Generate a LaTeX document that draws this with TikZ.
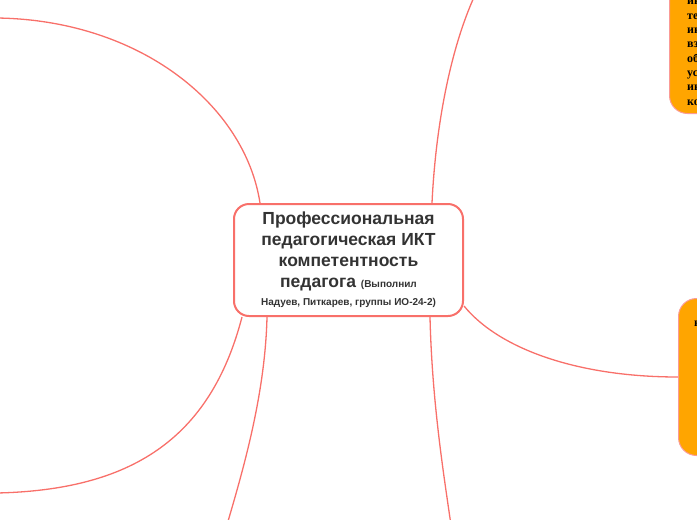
\documentclass[tikz,border=0pt]{standalone}
\usepackage{fontspec}
\setmainfont{Liberation Sans}
\newfontfamily\boxfont{Liberation Serif}
\usetikzlibrary{positioning,backgrounds}
\definecolor{branchred}{HTML}{F8706A}
\definecolor{nodeorange}{HTML}{FFA500}
\definecolor{textgray}{HTML}{333333}

\begin{document}
\begin{tikzpicture}[x=1pt, y=-1pt,
    topic/.style={draw=branchred, line width=2pt, rounded corners=15pt, fill=white,
        minimum width=229pt, minimum height=112pt, inner sep=0pt, align=center,
        text=textgray, font=\bfseries\fontsize{17.5}{21}\selectfont},
    subtopic/.style={draw=branchred!70, line width=1pt, fill=nodeorange, rounded corners=18pt},
    subtext/.style={font=\boxfont\bfseries\fontsize{12}{14.3}\selectfont, align=left, inner sep=0pt},
    branch/.style={draw=branchred, line width=1.3pt}]
    \useasboundingbox (0,0) rectangle (697,520);
    \clip (0,0) rectangle (697,520);
    % central topic
    \node (topic) at (348.5,260) [topic] {Профессиональная\\педагогическая ИКТ\\компетентность\\педагога {\fontsize{10}{12}\selectfont (Выполнил}\\[-3pt]{\fontsize{10}{12}\selectfont Надуев, Питкарев, группы ИО-24-2)}};

    % subtopics on the right, cut by the page edge
    \node (itbox) at (669,114) [subtopic, minimum width=120pt, minimum height=170pt, anchor=south west] {};
    \node (ittext) at (687,105) [subtext, anchor=base west] {информационных\\технологий\\информационного\\взаимодействия\\образовательного\\условиях\\информационной\\коммуникационной};
    \node (skillbox) at (678,298) [subtopic, minimum width=120pt, minimum height=157pt, anchor=north west] {};
    \node (skilltext) at (694,326) [subtext, anchor=base west] {навыки};

    % free ends of the branches
    \coordinate (tlend) at (-3,18);
    \coordinate (blend) at (-3,493);
    \coordinate (bend) at (224,535);
    \coordinate (trend) at (475,-5);
    \coordinate (brend) at (451,525);

    \begin{scope}[on background layer]
        \draw [branch] ([xshift=27pt]topic.north west) .. controls (245,105) and (140,20) .. (tlend);
        \draw [branch] ([xshift=9pt]topic.south west) .. controls (210,440) and (130,490) .. (blend);
        \draw [branch] ([xshift=34pt]topic.south west) .. controls (265,400) and (240,480) .. (bend);
        \draw [branch] ([xshift=-32pt]topic.north east) .. controls (436,120) and (452,45) .. (trend);
        \draw [branch] ([xshift=-34pt]topic.south east) .. controls (432,400) and (443,470) .. (brend);
        \draw [branch] ([yshift=11pt]topic.south east) .. controls (500,350) and (580,377) .. (skillbox.west);
    \end{scope}
\end{tikzpicture}
\end{document}
